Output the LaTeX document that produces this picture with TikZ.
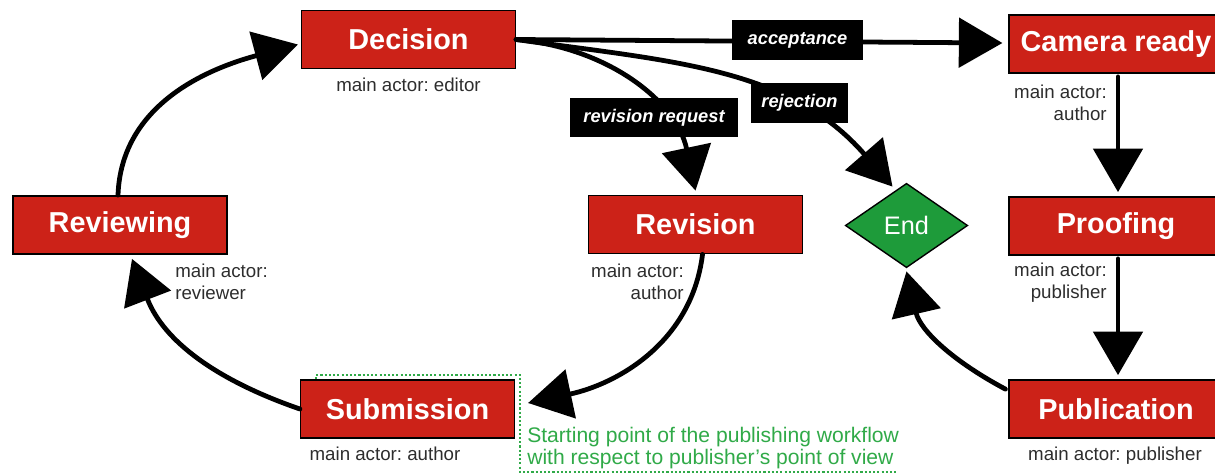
\documentclass[tikz,border=0pt]{standalone}
\usepackage{fontspec}
\setmainfont{Liberation Sans}
\usetikzlibrary{arrows.meta,shapes.geometric,calc}
\definecolor{boxred}{RGB}{204,34,24}
\definecolor{endgreen}{RGB}{30,155,58}
\definecolor{notegreen}{RGB}{48,170,72}
\definecolor{actorgray}{RGB}{45,45,45}
\frenchspacing
\begin{document}
\begin{tikzpicture}[x=0.025cm,y=0.025cm,
  stage/.style={draw=black, line width=1pt, fill=boxred, text=white,
    font=\fontsize{20.5}{24}\selectfont\bfseries,
    minimum width=152pt, minimum height=41.5pt, inner sep=0pt},
  endstyle/.style={diamond, draw=black, line width=1pt, fill=endgreen, text=white,
    font=\fontsize{18}{20}\selectfont, minimum width=87pt, minimum height=60pt,
    inner sep=0pt, aspect=1.45},
  lab/.style={fill=black, text=white, font=\fontsize{13}{15}\selectfont\bfseries\itshape,
    minimum height=28pt, inner sep=1pt},
  actor/.style={font=\fontsize{13.3}{15.6}\selectfont\frenchspacing, text=actorgray, inner sep=0pt},
  arr/.style={line width=3.4pt, line cap=round, -{Triangle[length=31pt,width=35pt]}},
  note/.style={font=\fontsize{15}{15}\selectfont\frenchspacing, text=notegreen, inner sep=0pt, align=left},
  dots/.style={draw=notegreen, line width=1.5pt, dash pattern=on 1.5pt off 1.5pt}
]
\useasboundingbox (0,0) rectangle (1215,-474);
\clip (0,0) rectangle (1215,-474);

% green dotted frame (behind the Submission box)
\coordinate (f1) at (316,-379);
\coordinate (f2) at (316,-375);
\coordinate (f3) at (520,-375);
\coordinate (f4) at (520,-472);
\coordinate (f5) at (898,-472);
\draw[dots] (f1) -- (f2) -- (f3) -- (f4) -- (f5);

% stages
\node[stage] (dec) at (408.5,-39.5) {Decision};
\node[stage] (cam) at (1116,-44) {Camera ready};
\node[stage] (rev) at (120,-225) {Reviewing};
\node[stage] (revi) at (695.5,-224.5) {Revision};
\node[stage] (proof) at (1116,-226) {Proofing};
\node[stage] (pub) at (1116,-409) {Publication};
\node[stage] (sub) at (407.5,-409) {Submission};
\node[endstyle] (end) at (906.5,-225.5) {End};

% actors (base anchor = baseline of the last line)
\node[actor, anchor=base] (decact) at (408.5,-91) {main actor: editor};
\node[actor, anchor=base west, align=left] (revact) at (175,-299) {main actor:\\reviewer};
\node[actor, anchor=base east, align=right] (reviact) at (684,-299) {main actor:\\author};
\node[actor, anchor=base east, align=right] (camact) at (1107,-120) {main actor:\\author};
\node[actor, anchor=base east, align=right] (proofact) at (1107,-298) {main actor:\\publisher};
\node[actor, anchor=base] (pubact) at (1115,-460) {main actor: publisher};
\node[actor, anchor=base] (subact) at (385,-460) {main actor: author};

% note
\node[note, anchor=base west] (startnote) at (527,-464)
  {Starting point of the publishing workflow\\with respect to publisher’s point of view};

% connectors
\draw[arr] ($(rev.north)+(-2,0)$) to[out=88,in=195] ($(dec.west)+(-3,-5)$);
\draw[arr] (sub.west) to[out=161,in=-69] ($(rev.south)+(12,-4)$);
\draw[arr] ($(revi.south)+(7,0)$) to[out=-97,in=12] ($(sub.east)+(13,6)$);
\draw[arr] ($(pub.north west)+(-3,-10)$) to[out=152,in=-77] ($(end.south)+(0,-3)$);
\draw[arr] ($(cam.south)+(2,-3)$) -- ($(proof.north)+(2,4)$);
\draw[arr] ($(proof.south)+(2,-3)$) -- ($(pub.north)+(2,4)$);
\draw[arr] (dec.east) -- ($(cam.west)+(-6,1)$);
\draw[arr] (dec.east) to[out=-5,in=102] ($(revi.north)+(0,4)$);
\draw[arr] (dec.east) to[out=-8,in=131] ($(end.north)+(-14,-4)$);

% connector labels
\node[lab, minimum width=93pt] (acc) at (797.5,-40) {acceptance};
\node[lab, minimum width=119pt] (rreq) at (654,-117.5) {revision request};
\node[lab, minimum width=69pt] (rej) at (799.5,-103) {rejection};
\end{tikzpicture}
\end{document}
